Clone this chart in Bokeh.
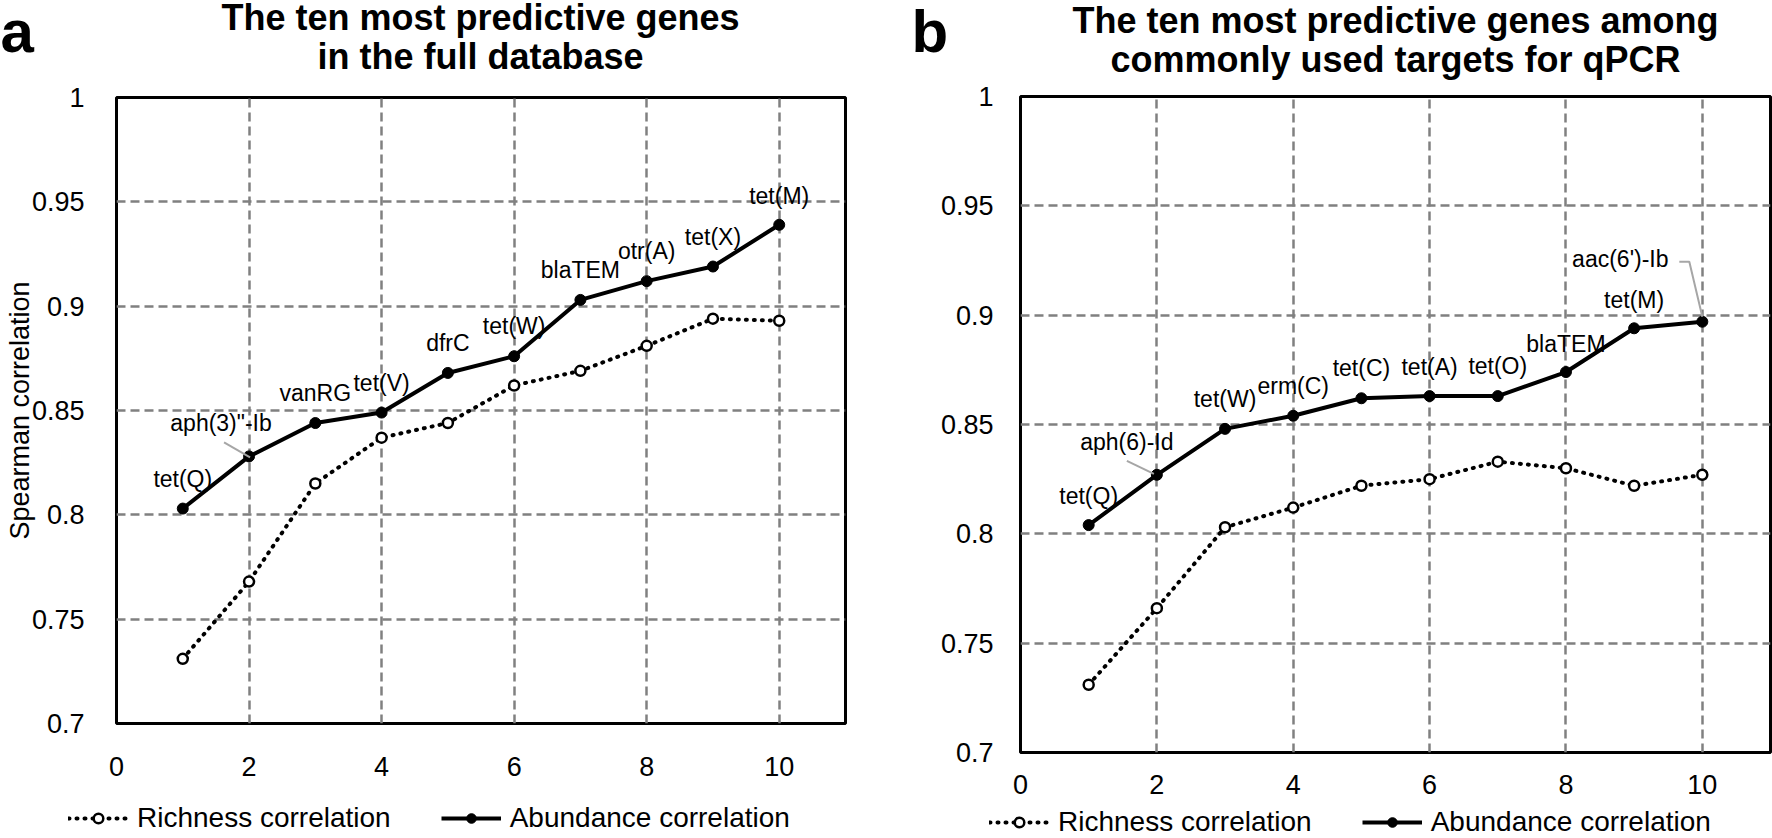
from bokeh.plotting import figure
from bokeh.layouts import row, column
from bokeh.models import (Range1d, FixedTicker, Legend, LegendItem,
                          LabelSet, ColumnDataSource)
from bokeh.embed import file_html
from bokeh.resources import INLINE
from bokeh.core.properties import value

# ---------------- data ----------------
ranks = [1, 2, 3, 4, 5, 6, 7, 8, 9, 10]

genes_a = ["tet(Q)", 'aph(3)"-Ib', "vanRG", "tet(V)", "dfrC", "tet(W)",
           "blaTEM", "otr(A)", "tet(X)", "tet(M)"]
abundance_a = [0.803, 0.828, 0.844, 0.849, 0.868, 0.876, 0.903, 0.912, 0.919, 0.939]
richness_a = [0.731, 0.768, 0.815, 0.837, 0.844, 0.862, 0.869, 0.881, 0.894, 0.893]

genes_b = ["tet(Q)", "aph(6)-Id", "tet(W)", "erm(C)", "tet(C)", "tet(A)",
           "tet(O)", "blaTEM", "tet(M)", "aac(6')-Ib"]
abundance_b = [0.804, 0.827, 0.848, 0.854, 0.862, 0.863, 0.863, 0.874, 0.894, 0.897]
richness_b = [0.731, 0.766, 0.803, 0.812, 0.822, 0.825, 0.833, 0.830, 0.822, 0.827]

x_ticks = [0, 2, 4, 6, 8, 10]
y_ticks = [0.7, 0.75, 0.8, 0.85, 0.9, 0.95, 1.0]
y_tick_labels = ["0.7", "0.75", "0.8", "0.85", "0.9", "0.95", "1"]

title_a = ["The ten most predictive genes", "in the full database"]
title_b = ["The ten most predictive genes among", "commonly used targets for qPCR"]
legend_labels = ["Richness correlation", "Abundance correlation"]
y_label = "Spearman correlation"

# ---------------- styling / layout ----------------
FONT = "Liberation Sans"
X_RANGE = (0, 11)
Y_RANGE = (0.7, 1.0)
COL_W = 886
TOP_H = 80
DOT = "1 7"
NAN = float("nan")

# label offsets in pixels (dx right, dy up) relative to each abundance point
lab_off_a = [(0, 22), (-28, 25), (0, 22), (0, 22), (0, 22), (0, 22), (0, 22), (0, 22), (0, 22), (0, 21)]
lab_off_b = [(0, 21), (-30, 25), (0, 22), (0, 22), (0, 22), (0, 21), (0, 22), (0, 20), (0, 20), (-82, 55)]
# leader lines: (point index, pixel offsets polyline)
leaders_a = [(1, [(-25, 14), (1, -1)])]
leaders_b = [(1, [(-30, 14), (-3, 1)]), (9, [(-23, 60), (-13, 60), (0, 5)])]


def bare_fig(w, h, y_down=True):
    f = figure(width=w, height=h, x_range=Range1d(0, w),
               y_range=Range1d(h, 0) if y_down else Range1d(0, h),
               output_backend="svg", toolbar_location=None,
               x_axis_location=None, y_axis_location=None,
               min_border_left=0, min_border_right=0, min_border_top=0,
               min_border_bottom=0)
    f.title = None
    f.frame_align = False
    f.outline_line_color = None
    f.xgrid.visible = False
    f.ygrid.visible = False
    f.background_fill_color = "white"
    f.border_fill_color = "white"
    return f


def title_fig(lines, line_x, line_y, letter, letter_x, letter_y):
    f = bare_fig(COL_W, TOP_H)
    f.text(x=[line_x] * len(lines), y=line_y, text=lines, text_align="center",
           text_baseline="alphabetic", text_font=value(FONT),
           text_font_size="36px", text_font_style="bold", text_color="black")
    f.text(x=[letter_x], y=[letter_y], text=[letter], text_align="left",
           text_baseline="alphabetic", text_font=value(FONT),
           text_font_size="60px", text_font_style="bold", text_color="black")
    return f


def legend_fig(h, loc):
    f = bare_fig(COL_W, h, y_down=False)
    # sample renderers for the legend only (nothing visible in the frame)
    r1 = f.line(x=[NAN], y=[NAN], line_color="black", line_width=4,
                line_dash=DOT, line_cap="round")
    r2 = f.scatter(x=[NAN], y=[NAN], marker="circle", size=10, line_color="black",
                   line_width=2.5, fill_color="white")
    a1 = f.line(x=[NAN], y=[NAN], line_color="black", line_width=4)
    a2 = f.scatter(x=[NAN], y=[NAN], marker="circle", size=11, line_color="black",
                   fill_color="black")
    legend = Legend(items=[LegendItem(label=legend_labels[0], renderers=[r1, r2]),
                           LegendItem(label=legend_labels[1], renderers=[a1, a2])],
                    location=loc, orientation="horizontal")
    legend.label_text_font = FONT
    legend.label_text_font_size = "28px"
    legend.label_text_color = "black"
    legend.border_line_color = None
    legend.background_fill_alpha = 0
    legend.padding = 0
    legend.margin = 0
    legend.spacing = 50
    legend.label_standoff = 9
    legend.glyph_width = 60
    legend.glyph_height = 24
    legend.label_height = 24
    f.add_layout(legend, "center")
    return f


def make_panel(genes, abundance, richness, lab_off, leaders, fig_h,
               b_left, b_right, b_top, b_bottom, ylab_standoff, xlab_standoff,
               show_ylabel):
    p = figure(width=COL_W, height=fig_h, x_range=Range1d(*X_RANGE),
               y_range=Range1d(*Y_RANGE), output_backend="svg",
               toolbar_location=None, min_border_left=b_left,
               min_border_right=b_right, min_border_top=b_top,
               min_border_bottom=b_bottom)
    p.title = None
    p.frame_align = False
    p.background_fill_color = "white"
    p.border_fill_color = "white"
    p.outline_line_color = "black"
    p.outline_line_width = 3

    frame_w = COL_W - b_left - b_right
    frame_h = fig_h - b_top - b_bottom
    sx = frame_w / (X_RANGE[1] - X_RANGE[0])
    sy = frame_h / (Y_RANGE[1] - Y_RANGE[0])

    for g in (p.xgrid, p.ygrid):
        g.grid_line_color = "#808080"
        g.grid_line_dash = "9 5"
        g.grid_line_width = 2.5
    p.xgrid.ticker = FixedTicker(ticks=x_ticks)
    p.ygrid.ticker = FixedTicker(ticks=y_ticks)

    p.xaxis.ticker = FixedTicker(ticks=x_ticks)
    p.yaxis.ticker = FixedTicker(ticks=y_ticks)
    p.yaxis.major_label_overrides = {t: s for t, s in zip(y_ticks, y_tick_labels)}
    for ax in (p.xaxis, p.yaxis):
        ax.axis_line_color = None
        ax.major_tick_line_color = None
        ax.minor_tick_line_color = None
        ax.major_label_text_font = FONT
        ax.major_label_text_font_size = "27px"
        ax.major_label_text_color = "black"
    p.yaxis.major_label_standoff = ylab_standoff
    p.xaxis.major_label_standoff = xlab_standoff
    if show_ylabel:
        p.yaxis.axis_label = y_label
        p.yaxis.axis_label_text_font = FONT
        p.yaxis.axis_label_text_font_size = "27px"
        p.yaxis.axis_label_text_font_style = "normal"
        p.yaxis.axis_label_text_color = "black"
        p.yaxis.axis_label_standoff = -6

    p.line(ranks, richness, line_color="black", line_width=4,
           line_dash=DOT, line_cap="round")
    p.scatter(ranks, richness, marker="circle", size=10,
              line_color="black", line_width=2.5, fill_color="white")
    p.line(ranks, abundance, line_color="black", line_width=4)
    p.scatter(ranks, abundance, marker="circle", size=11,
              line_color="black", fill_color="black")

    for idx, offs in leaders:
        xs = [ranks[idx] + dx / sx for dx, dy in offs]
        ys = [abundance[idx] + dy / sy for dx, dy in offs]
        p.line(xs, ys, line_color="#a6a6a6", line_width=2)

    src = ColumnDataSource(dict(x=ranks, y=abundance, gene=genes,
                                dx=[o[0] for o in lab_off],
                                dy=[o[1] for o in lab_off]))
    p.add_layout(LabelSet(x="x", y="y", text="gene", x_offset="dx", y_offset="dy",
                          source=src, text_align="center",
                          text_baseline="alphabetic", text_font=value(FONT),
                          text_font_size="23px", text_color="black"))
    return p


# panel a: frame 116..845 x 97..723
top_a = title_fig(title_a, 480, [17, 56], "a", 0, 31)
pa = make_panel(genes_a, abundance_a, richness_a, lab_off_a, leaders_a,
                fig_h=708, b_left=116, b_right=41, b_top=17, b_bottom=65,
                ylab_standoff=26, xlab_standoff=27, show_ylabel=True)
leg_a = legend_fig(50, (68, 4))

# panel b: frame 1020..1770 x 96..752
top_b = title_fig(title_b, 509, [20, 59], "b", 25, 31)
pb = make_panel(genes_b, abundance_b, richness_b, lab_off_b, leaders_b,
                fig_h=720, b_left=134, b_right=2, b_top=16, b_bottom=48,
                ylab_standoff=21, xlab_standoff=16, show_ylabel=False)
leg_b = legend_fig(38, (103, 0))

layout = row(column(top_a, pa, leg_a), column(top_b, pb, leg_b))
open("out.html", "w").write(file_html(layout, INLINE))
